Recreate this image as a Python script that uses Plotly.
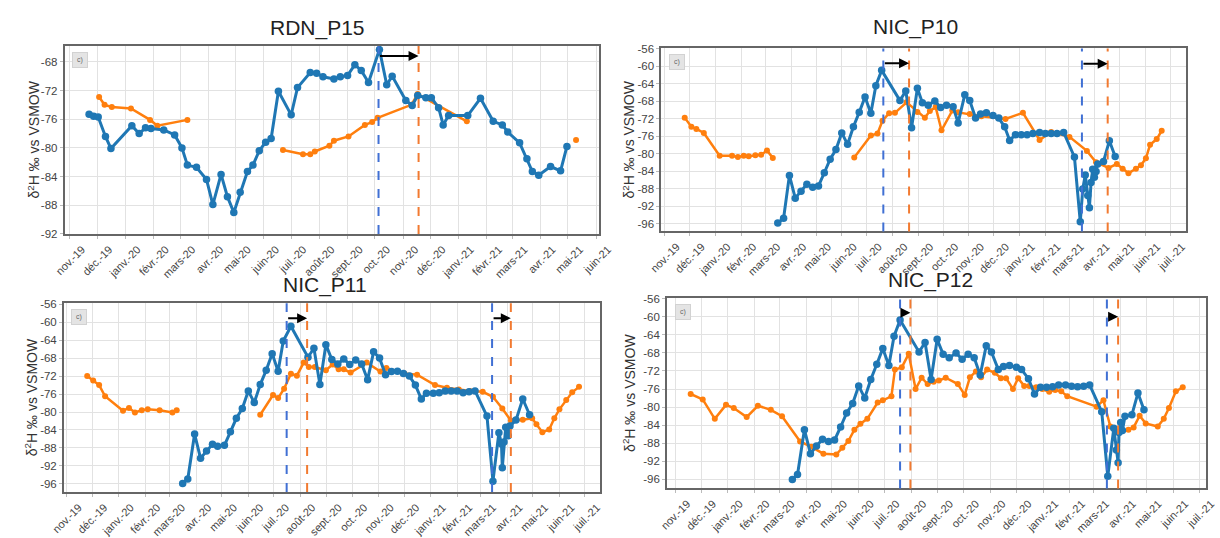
import plotly.graph_objects as go

# ---------------- axis ticks ----------------
month_ticks = ["2019-11-01", "2019-12-01", "2020-01-01", "2020-02-01", "2020-03-01", "2020-04-01",
               "2020-05-01", "2020-06-01", "2020-07-01", "2020-08-01", "2020-09-01", "2020-10-01",
               "2020-11-01", "2020-12-01", "2021-01-01", "2021-02-01", "2021-03-01", "2021-04-01",
               "2021-05-01", "2021-06-01", "2021-07-01"]
month_labels = ["nov.-19", "déc.-19", "janv.-20", "févr.-20", "mars-20", "avr.-20", "mai-20", "juin-20",
                "juil.-20", "août-20", "sept.-20", "oct.-20", "nov.-20", "déc.-20", "janv.-21", "févr.-21",
                "mars-21", "avr.-21", "mai-21", "juin-21", "juil.-21"]
titles = ["RDN_P15", "NIC_P10", "NIC_P11", "NIC_P12"]
ytick_p15 = [-92, -88, -84, -80, -76, -72, -68]
ytick_nic = [-96, -92, -88, -84, -80, -76, -72, -68, -64, -60, -56]

# ---------------- RDN_P15 ----------------
p15_blue_dates = ["2019-11-22", "2019-11-27", "2019-12-02", "2019-12-10", "2019-12-16", "2020-01-08", "2020-01-16",
                  "2020-01-23", "2020-01-29", "2020-02-12", "2020-02-24", "2020-03-03", "2020-03-09", "2020-03-19",
                  "2020-03-30", "2020-04-06", "2020-04-15", "2020-04-22", "2020-04-29", "2020-05-06", "2020-05-14",
                  "2020-05-20", "2020-05-27", "2020-06-03", "2020-06-09", "2020-06-17", "2020-07-01", "2020-07-08",
                  "2020-07-22", "2020-07-29", "2020-08-05", "2020-08-17", "2020-08-24", "2020-09-01", "2020-09-09",
                  "2020-09-16", "2020-09-24", "2020-10-06", "2020-10-14", "2020-10-20", "2020-11-04", "2020-11-11",
                  "2020-11-17", "2020-11-26", "2020-12-02", "2020-12-10", "2020-12-15", "2020-12-21", "2021-01-11",
                  "2021-01-25", "2021-02-08", "2021-02-18", "2021-02-24", "2021-03-09", "2021-03-17", "2021-03-23",
                  "2021-03-30", "2021-04-12", "2021-04-23", "2021-04-30"]
p15_blue_vals = [-75.3, -75.6, -75.7, -78.4, -80.1, -76.9, -78.0, -77.2, -77.3, -77.5, -78.2, -80.0, -82.4, -82.7,
                 -84.4, -87.9, -83.7, -86.8, -89.0, -86.2, -83.3, -82.4, -80.4, -79.2, -78.7, -72.1, -75.4, -71.6,
                 -69.5, -69.6, -70.1, -70.4, -70.1, -69.9, -68.4, -69.2, -70.9, -66.3, -71.2, -70.0, -73.4, -74.1,
                 -72.7, -73.0, -73.0, -74.4, -76.8, -75.5, -75.5, -73.1, -76.3, -76.8, -77.8, -79.3, -81.5, -83.3,
                 -83.8, -82.6, -83.2, -79.8]
p15_orange_dates = ["2019-12-03", "2019-12-09", "2019-12-17", "2020-01-07", "2020-01-28", "2020-02-05", "2020-03-09",
                    "2020-04-15", "2020-06-22", "2020-07-14", "2020-07-22", "2020-07-27", "2020-08-12", "2020-08-17",
                    "2020-09-02", "2020-09-20", "2020-09-28", "2020-10-04", "2020-11-10", "2020-11-17", "2021-01-10",
                    "2021-03-01", "2021-05-10"]
p15_orange_vals = [-72.9, -74.0, -74.3, -74.5, -76.1, -76.9, -76.1,
                   None, -80.3, -80.9, -80.9, -80.5, -79.7, -79.0,
                   -78.4, -76.8, -76.4, -75.8, -74.0, -72.5, -76.3,
                   None, -78.9]

# ---------------- NIC_P10 ----------------
p10_blue_dates = ["2020-03-16", "2020-03-23", "2020-03-30", "2020-04-06", "2020-04-13", "2020-04-20", "2020-04-27",
                  "2020-05-04", "2020-05-11", "2020-05-18", "2020-05-25", "2020-06-01", "2020-06-08", "2020-06-15",
                  "2020-06-22", "2020-06-29", "2020-07-06", "2020-07-12", "2020-07-19", "2020-08-10", "2020-08-17",
                  "2020-08-24", "2020-08-31", "2020-09-06", "2020-09-13", "2020-09-21", "2020-09-28", "2020-10-05",
                  "2020-10-13", "2020-10-19", "2020-10-27", "2020-11-02", "2020-11-09", "2020-11-15", "2020-11-22",
                  "2020-11-30", "2020-12-07", "2020-12-14", "2020-12-20", "2020-12-27", "2021-01-03", "2021-01-10",
                  "2021-01-17", "2021-01-25", "2021-02-01", "2021-02-08", "2021-02-15", "2021-02-23", "2021-03-08",
                  "2021-03-15", "2021-03-18", "2021-03-21", "2021-03-24", "2021-03-26", "2021-03-28", "2021-03-30",
                  "2021-04-01", "2021-04-03", "2021-04-05", "2021-04-12", "2021-04-19", "2021-04-26"]
p10_blue_vals = [-95.8, -94.7, -84.9, -90.1, -88.5, -86.9, -87.6, -87.3, -84.3, -81.2, -79.0, -75.2, -77.8, -73.8,
                 -70.5, -67.0, -70.7, -64.4, -60.9, -67.8, -65.6, -74.0, -65.0, -68.3, -68.9, -67.9, -69.4, -68.9,
                 -69.2, -72.9, -66.5, -67.8, -71.8, -70.9, -70.6, -71.2, -71.8, -73.8, -76.9, -75.6, -75.6, -75.6,
                 -75.3, -75.1, -75.3, -75.3, -75.3, -75.1, -80.7, -95.5, -88.0, -84.8, -89.5, -92.3, -86.5, -83.5,
                 -85.3, -84.0, -82.3, -81.7, -77.0, -80.6]
p10_orange_dates = ["2019-11-25", "2019-12-03", "2019-12-09", "2019-12-18", "2020-01-06", "2020-01-21", "2020-01-28",
                    "2020-02-04", "2020-02-10", "2020-02-18", "2020-02-25", "2020-03-03", "2020-03-10", "2020-04-20",
                    "2020-06-16", "2020-07-06", "2020-07-14", "2020-07-20", "2020-07-28", "2020-08-04", "2020-08-18",
                    "2020-08-31", "2020-09-09", "2020-09-15", "2020-09-22", "2020-09-29", "2020-10-12", "2020-10-19",
                    "2020-11-02", "2020-11-16", "2020-12-15", "2021-01-05", "2021-01-25", "2021-02-08", "2021-03-02",
                    "2021-03-23", "2021-04-03", "2021-04-18", "2021-04-28", "2021-05-05", "2021-05-12", "2021-05-21",
                    "2021-05-27", "2021-06-02", "2021-06-07", "2021-06-15", "2021-06-21"]
p10_orange_vals = [-71.7, -73.8, -74.3, -75.2, -80.4, -80.4, -80.7, -80.4, -80.5, -80.3, -80.2, -79.2, -80.9, None,
                   -80.8, -75.8, -75.3, -72.4, -70.7, -70.6, -68.2, -70.4, -71.7, -70.2, -69.3, -74.6, -70.1, -70.5,
                   -70.9, -71.4, -72.0, -70.6, -76.8, -75.0, -76.1, -79.3, -81.9, -83.2, -82.3, -83.4, -84.4, -83.4,
                   -82.6, -81.0, -77.9, -76.6, -74.7]

# ---------------- NIC_P11 ----------------
p11_blue_dates = ["2020-03-16", "2020-03-22", "2020-03-30", "2020-04-06", "2020-04-13", "2020-04-20", "2020-04-26",
                  "2020-05-04", "2020-05-11", "2020-05-18", "2020-05-25", "2020-06-01", "2020-06-08", "2020-06-15",
                  "2020-06-22", "2020-06-29", "2020-07-06", "2020-07-12", "2020-07-21", "2020-08-10", "2020-08-17",
                  "2020-08-24", "2020-08-31", "2020-09-07", "2020-09-14", "2020-09-21", "2020-09-28", "2020-10-05",
                  "2020-10-12", "2020-10-19", "2020-10-26", "2020-11-02", "2020-11-09", "2020-11-16", "2020-11-23",
                  "2020-11-30", "2020-12-07", "2020-12-14", "2020-12-21", "2020-12-27", "2021-01-04", "2021-01-11",
                  "2021-01-18", "2021-01-25", "2021-02-01", "2021-02-08", "2021-02-15", "2021-02-22", "2021-03-08",
                  "2021-03-15", "2021-03-22", "2021-03-25", "2021-03-26", "2021-03-28", "2021-03-30", "2021-04-02",
                  "2021-04-04", "2021-04-11", "2021-04-19", "2021-04-27"]
p11_blue_vals = [-95.9, -94.9, -84.9, -90.3, -88.7, -87.2, -87.6, -87.4, -84.4, -81.4, -79.2, -75.3, -77.9, -73.9,
                 -70.7, -67.0, -70.9, -64.2, -60.9, -67.8, -65.8, -73.9, -65.0, -68.3, -69.3, -68.2, -69.4, -68.4,
                 -69.3, -72.8, -66.6, -68.0, -71.7, -71.0, -70.9, -71.4, -72.0, -74.0, -77.1, -75.8, -75.8, -75.7,
                 -75.3, -75.3, -75.3, -75.7, -75.5, -75.3, -80.9, -95.4, -84.6, -87.1, -92.4, -86.7, -83.4, -85.3,
                 -83.1, -81.8, -77.1, -80.6]
p11_orange_dates = ["2019-11-25", "2019-12-02", "2019-12-09", "2019-12-16", "2020-01-06", "2020-01-13", "2020-01-20",
                    "2020-01-28", "2020-02-04", "2020-02-18", "2020-03-04", "2020-03-09", "2020-04-20", "2020-06-15",
                    "2020-06-30", "2020-07-06", "2020-07-13", "2020-07-21", "2020-07-28", "2020-08-05", "2020-08-11",
                    "2020-08-18", "2020-08-31", "2020-09-08", "2020-09-15", "2020-09-21", "2020-09-29", "2020-10-18",
                    "2020-11-03", "2020-11-10", "2020-12-01", "2020-12-16", "2021-01-06", "2021-01-20", "2021-02-03",
                    "2021-02-16", "2021-03-03", "2021-03-15", "2021-03-26", "2021-04-05", "2021-04-19", "2021-04-30",
                    "2021-05-05", "2021-05-12", "2021-05-20", "2021-05-26", "2021-06-01", "2021-06-09", "2021-06-16",
                    "2021-06-24"]
p11_orange_vals = [-72.0, -73.0, -74.0, -76.5, -79.7, -79.1, -80.1, -79.6, -79.4, -79.6, -80.1, -79.6, None, -80.6,
                   -76.2, -76.9, -74.8, -71.5, -71.9, -69.0, -70.0, -70.0, -70.7, -69.4, -70.5, -70.5, -71.2, -69.0,
                   -71.0, -70.2, -71.4, -71.7, -74.0, -74.6, -75.0, -75.3, -75.5, -76.6, -79.2, -81.9, -81.7, -81.4,
                   -82.7, -84.5, -83.9, -81.4, -79.4, -77.3, -75.6, -74.4]

# ---------------- NIC_P12 ----------------
p12_blue_dates = ["2020-03-16", "2020-03-22", "2020-03-30", "2020-04-06", "2020-04-13", "2020-04-20", "2020-04-27",
                  "2020-05-04", "2020-05-11", "2020-05-18", "2020-05-25", "2020-06-01", "2020-06-08", "2020-06-15",
                  "2020-06-22", "2020-06-29", "2020-07-06", "2020-07-12", "2020-07-19", "2020-08-10", "2020-08-17",
                  "2020-08-24", "2020-08-31", "2020-09-07", "2020-09-14", "2020-09-22", "2020-09-29", "2020-10-06",
                  "2020-10-13", "2020-10-20", "2020-10-27", "2020-11-02", "2020-11-10", "2020-11-16", "2020-11-23",
                  "2020-12-01", "2020-12-07", "2020-12-15", "2020-12-22", "2020-12-29", "2021-01-05", "2021-01-12",
                  "2021-01-19", "2021-01-27", "2021-02-03", "2021-02-10", "2021-02-17", "2021-02-24", "2021-03-10",
                  "2021-03-17", "2021-03-24", "2021-03-27", "2021-03-29", "2021-03-30", "2021-04-01", "2021-04-03",
                  "2021-04-06", "2021-04-14", "2021-04-21", "2021-04-28"]
p12_blue_vals = [-96.0, -94.9, -85.0, -90.3, -88.6, -87.1, -87.6, -87.3, -84.4, -81.3, -79.2, -75.3, -78.0, -73.9,
                 -70.5, -67.0, -70.8, -64.3, -60.7, -67.8, -65.7, -73.9, -65.0, -68.3, -69.1, -68.0, -69.4, -68.3,
                 -69.1, -72.9, -66.4, -67.8, -71.7, -71.0, -70.8, -71.2, -71.7, -73.7, -77.1, -75.6, -75.6, -75.5,
                 -75.1, -75.1, -75.4, -75.5, -75.4, -75.1, -81.0, -95.3, -84.7, -89.5, -92.3, -85.6, -83.4, -85.2,
                 -82.0, -81.7, -76.9, -80.6]
p12_orange_dates = ["2019-11-19", "2019-12-03", "2019-12-17", "2019-12-30", "2020-01-08", "2020-01-23", "2020-02-05",
                    "2020-02-20", "2020-03-04", "2020-03-25", "2020-04-07", "2020-04-21", "2020-05-06", "2020-05-13",
                    "2020-05-20", "2020-05-27", "2020-06-03", "2020-06-11", "2020-06-23", "2020-06-29", "2020-07-09",
                    "2020-07-13", "2020-07-21", "2020-07-29", "2020-08-06", "2020-08-13", "2020-08-20", "2020-08-27",
                    "2020-09-02", "2020-09-10", "2020-09-24", "2020-10-02", "2020-10-08", "2020-10-15", "2020-10-21",
                    "2020-10-28", "2020-11-06", "2020-11-13", "2020-11-19", "2020-11-27", "2020-12-03", "2020-12-10",
                    "2020-12-16", "2020-12-24", "2020-12-31", "2021-01-08", "2021-01-15", "2021-01-22", "2021-01-29",
                    "2021-03-04", "2021-03-12", "2021-03-20", "2021-03-29", "2021-04-10", "2021-04-16", "2021-04-23",
                    "2021-04-30", "2021-05-14", "2021-05-21", "2021-05-27", "2021-06-04", "2021-06-12"]
p12_orange_vals = [-77.1, -78.3, -82.6, -79.5, -80.2, -82.2, -79.7, -80.6, -82.0, -87.6, -88.8, -90.3, -90.5, -89.0,
                   -87.5, -85.0, -83.7, -82.6, -79.0, -78.5, -77.6, -71.7, -71.2, -68.2, -76.0, -73.5, -74.9, -74.4,
                   -74.1, -73.5, -74.9, -77.3, -73.4, -72.1, -73.4, -71.7, -72.4, -73.6, -73.6, -76.0, -73.6, -75.3,
                   -75.3, -75.6, -76.0, -76.6, -76.2, -76.5, -77.6, -79.9, -78.5, -84.3, -85.6, -85.0, -84.5, -81.9,
                   -83.6, -84.3, -82.6, -80.2, -76.5, -75.6]

# transit markers: (blue dashed date, orange dashed date, arrow level)
p15_shifts = [("2020-10-05", "2020-11-18", -67.2)]
p10_shifts = [("2020-07-21", "2020-08-21", -59.3), ("2021-03-17", "2021-04-17", -59.4)]
p11_shifts = [("2020-07-16", "2020-08-09", -59.1), ("2021-03-14", "2021-04-05", -59.1)]
p12_shifts = [("2020-07-19", "2020-07-31", -59.1), ("2021-03-16", "2021-03-29", -60.0)]

# ---------------- layout geometry (pixels) ----------------
W, H = 1220, 538
panels = [
    dict(box=(51.7, 599, 41.7, 237.7), xr=["2019-10-26", "2021-06-04 12:00"], yr=[-92, -65.8], yt=ytick_p15,
         nt=20, blue=(p15_blue_dates, p15_blue_vals), orange=(p15_orange_dates, p15_orange_vals),
         shifts=p15_shifts, title_xy=(311, 23), ylab_x=20, cbox=(67.7, 56.7)),
    dict(box=(662.3, 1200, 44.3, 235), xr=["2019-10-27 14:00", "2021-07-20 19:00"], yr=[-97.7, -55.9], yt=ytick_nic,
         nt=21, blue=(p10_blue_dates, p10_blue_vals), orange=(p10_orange_dates, p10_orange_vals),
         shifts=p10_shifts, title_xy=(923, 22), ylab_x=629, cbox=(679, 58)),
    dict(box=(51, 600, 310, 506.7), xr=["2019-10-28 14:00", "2021-07-18 21:00"], yr=[-97.8, -55.8], yt=ytick_nic,
         nt=21, blue=(p11_blue_dates, p11_blue_vals), orange=(p11_orange_dates, p11_orange_vals),
         shifts=p11_shifts, title_xy=(318, 291), ylab_x=17, cbox=(66.7, 324.7)),
    dict(box=(668.3, 1220, 304.7, 503), xr=["2019-10-22 12:00", "2021-07-09"], yr=[-98, -55.9], yt=ytick_nic,
         nt=21, blue=(p12_blue_dates, p12_blue_vals), orange=(p12_orange_dates, p12_orange_vals),
         shifts=p12_shifts, title_xy=(938, 286), ylab_x=630, cbox=(684.7, 319.3)),
]

BLUE = "#1f77b4"
ORANGE = "#ff7f0e"
DASH_BLUE = "#4070d4"
DASH_ORANGE = "#f27a30"
FONT = "Liberation Sans, Arial, sans-serif"

fig = go.Figure()
shapes = []
annotations = []
layout_axes = {}

for i, p in enumerate(panels, start=1):
    l, r, t, b = p["box"]
    xa = "x" if i == 1 else f"x{i}"
    ya = "y" if i == 1 else f"y{i}"
    od, ov = p["orange"]
    bd, bv = p["blue"]
    fig.add_trace(go.Scatter(x=od, y=ov, mode="lines+markers", xaxis=xa, yaxis=ya, connectgaps=False,
                             line=dict(color=ORANGE, width=2.5), marker=dict(color=ORANGE, size=6),
                             showlegend=False))
    fig.add_trace(go.Scatter(x=bd, y=bv, mode="lines+markers", xaxis=xa, yaxis=ya,
                             line=dict(color=BLUE, width=3), marker=dict(color=BLUE, size=7.5),
                             showlegend=False))
    common = dict(showline=True, mirror=True, linecolor="#666666", linewidth=1.5,
                  showgrid=True, gridcolor="#e2e2e2", gridwidth=1, zeroline=False,
                  ticks="outside", ticklen=3, tickcolor="#bbbbbb")
    layout_axes["xaxis" if i == 1 else f"xaxis{i}"] = dict(
        common, domain=[l / W, r / W], anchor=ya, type="date", range=p["xr"],
        tickmode="array", tickvals=month_ticks[:p["nt"]], ticktext=month_labels[:p["nt"]],
        tickangle=-45, ticklabelshift=12, tickfont=dict(family=FONT, size=11, color="#444444"))
    layout_axes["yaxis" if i == 1 else f"yaxis{i}"] = dict(
        common, domain=[1 - b / H, 1 - t / H], anchor=xa, range=p["yr"],
        tickmode="array", tickvals=p["yt"], ticktext=[str(v) for v in p["yt"]],
        tickfont=dict(family=FONT, size=11.5, color="#444444"))

    for d_blue, d_orange, lvl in p["shifts"]:
        shapes.append(dict(type="line", xref=xa, yref=f"{ya} domain", x0=d_blue, x1=d_blue, y0=0, y1=1,
                           line=dict(color=DASH_BLUE, width=2, dash="dash")))
        shapes.append(dict(type="line", xref=xa, yref=f"{ya} domain", x0=d_orange, x1=d_orange, y0=0, y1=1,
                           line=dict(color=DASH_ORANGE, width=2, dash="dash")))
        annotations.append(dict(x=d_orange, y=lvl, ax=d_blue, ay=lvl, xref=xa, yref=ya, axref=xa, ayref=ya,
                                text="", showarrow=True, arrowhead=2, arrowsize=1, arrowwidth=2,
                                arrowcolor="black", standoff=0, startstandoff=0))

    tx, ty = p["title_xy"]
    annotations.append(dict(x=tx / W, y=1 - ty / H, xref="paper", yref="paper", text=titles[i - 1],
                            showarrow=False, xanchor="center", yanchor="middle",
                            font=dict(family=FONT, size=21, color="#222222")))
    annotations.append(dict(x=p["ylab_x"] / W, y=1 - ((t + b) / 2) / H, xref="paper", yref="paper",
                            text="δ<sup>2</sup>H ‰ vs VSMOW", textangle=-90, showarrow=False,
                            xanchor="center", yanchor="middle",
                            font=dict(family=FONT, size=14, color="#333333")))
    cx, cy = p["cbox"]
    annotations.append(dict(x=cx / W, y=1 - cy / H, xref="paper", yref="paper", text="c)",
                            showarrow=False, xanchor="center", yanchor="middle", width=14, height=14,
                            bgcolor="#e4e4e4", bordercolor="#d2d2d2", borderwidth=1, borderpad=0,
                            font=dict(family=FONT, size=7, color="#666666")))

fig.update_layout(width=W, height=H, margin=dict(l=0, r=0, t=0, b=0), paper_bgcolor="white",
                  plot_bgcolor="white", showlegend=False, shapes=shapes, annotations=annotations,
                  **layout_axes)

fig.write_html("out.html", config={"displayModeBar": False},
               post_script="document.body.style.margin='0';")
